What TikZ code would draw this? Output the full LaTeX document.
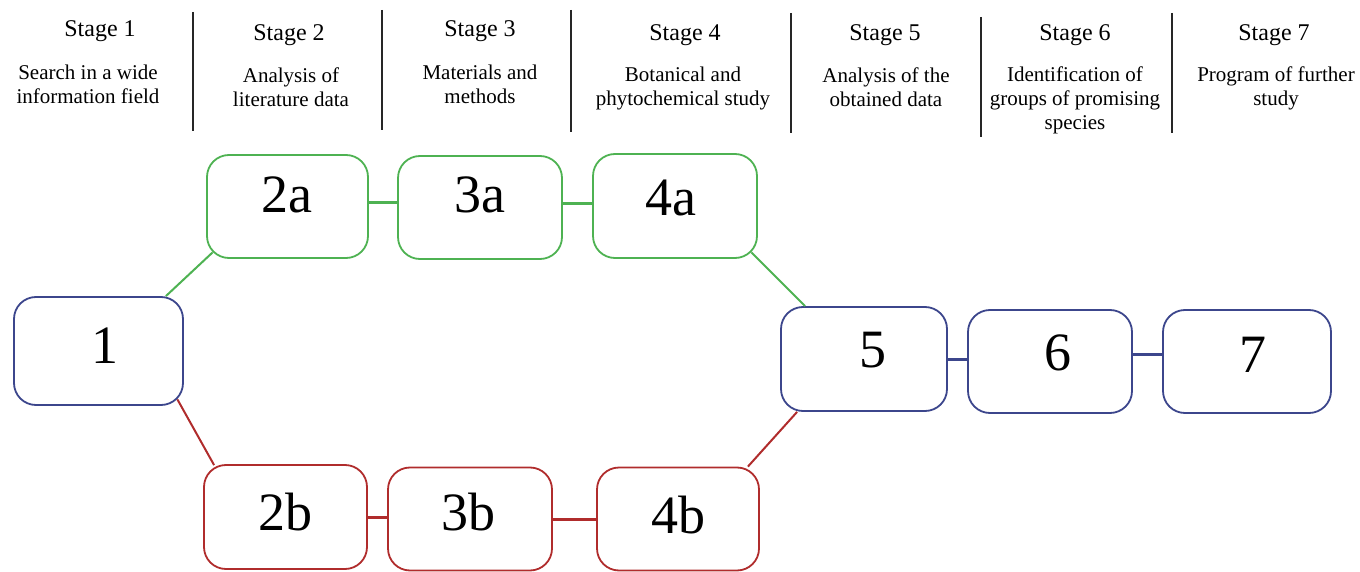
\documentclass[tikz,border=0pt]{standalone}
\usepackage{fontspec}
\setmainfont{Liberation Serif}
\usetikzlibrary{calc}
\definecolor{gline}{RGB}{78,178,82}
\definecolor{rline}{RGB}{176,44,44}
\definecolor{bline}{RGB}{60,70,140}
\begin{document}
\begin{tikzpicture}[x=1pt,y=-1pt,
  box/.style={draw, rounded corners=22pt, line width=1.8pt, inner sep=0pt},
  num/.style={font=\fontsize{54}{54}\selectfont, anchor=base, inner sep=0pt},
  stagehd/.style={font=\fontsize{24}{28}\selectfont, anchor=base, inner sep=0pt},
  desc/.style={font=\fontsize{21}{24}\selectfont, align=center, inner sep=0pt},
  divider/.style={line width=1.3pt, black!85},
  link/.style={line width=2pt},
  bar/.style={line width=3pt}]
\useasboundingbox (0,0) rectangle (1360,572);

% header
\node[stagehd] (s1) at (100,37) {Stage 1};
\node[stagehd] (s2) at (289,41) {Stage 2};
\node[stagehd] (s3) at (480,37) {Stage 3};
\node[stagehd] (s4) at (685,41) {Stage 4};
\node[stagehd] (s5) at (885,41) {Stage 5};
\node[stagehd] (s6) at (1075,41) {Stage 6};
\node[stagehd] (s7) at (1274,41) {Stage 7};

\node[desc] (d1) at (88,84) {Search in a wide\\information field};
\node[desc] (d2) at (291,87) {Analysis of\\literature data};
\node[desc] (d3) at (480,84) {Materials and\\methods};
\node[desc] (d4) at (683,88) {Botanical and\\phytochemical study};
\node[desc] (d5) at (886,87) {Analysis of the\\obtained data};
\node[desc] (d6) at (1075,100) {Identification of\\groups of promising\\species};
\node[desc] (d7) at (1276,88) {Program of further\\study};

\coordinate (v1t) at (193,12);  \coordinate (v1b) at (193,131);
\coordinate (v2t) at (382,10);  \coordinate (v2b) at (382,130);
\coordinate (v3t) at (571,10);  \coordinate (v3b) at (571,132);
\coordinate (v4t) at (791,13);  \coordinate (v4b) at (791,133);
\coordinate (v5t) at (981,17);  \coordinate (v5b) at (981,137);
\coordinate (v6t) at (1172,13); \coordinate (v6b) at (1172,133);
\draw[divider] (v1t) -- (v1b);
\draw[divider] (v2t) -- (v2b);
\draw[divider] (v3t) -- (v3b);
\draw[divider] (v4t) -- (v4b);
\draw[divider] (v5t) -- (v5b);
\draw[divider] (v6t) -- (v6b);

% boxes
\node[box, draw=bline, minimum width=169pt, minimum height=108pt] (n1) at (98.5,351) {};
\node[box, draw=gline, minimum width=161pt, minimum height=103pt] (n2a) at (287.5,206.5) {};
\node[box, draw=gline, minimum width=164pt, minimum height=103pt] (n3a) at (480,207.5) {};
\node[box, draw=gline, minimum width=164pt, minimum height=104pt] (n4a) at (675,206) {};
\node[box, draw=bline, minimum width=166pt, minimum height=104pt] (n5) at (864,359) {};
\node[box, draw=bline, minimum width=164pt, minimum height=103pt] (n6) at (1050,361.5) {};
\node[box, draw=bline, minimum width=168pt, minimum height=103pt] (n7) at (1247,361.5) {};
\node[box, draw=rline, minimum width=163pt, minimum height=104pt] (n2b) at (285.5,517) {};
\node[box, draw=rline, minimum width=164pt, minimum height=103pt] (n3b) at (470,519) {};
\node[box, draw=rline, minimum width=162pt, minimum height=103pt] (n4b) at (678,519) {};

% numbers
\node[num] (t1) at (105,363) {1};
\node[num] (t2a) at (287,213) {2a};
\node[num] (t3a) at (480,213) {3a};
\node[num] (t4a) at (671,215) {4a};
\node[num] (t5) at (873,367) {5};
\node[num] (t6) at (1058,370) {6};
\node[num] (t7) at (1253,372) {7};
\node[num] (t2b) at (285,530) {2b};
\node[num] (t3b) at (468,530) {3b};
\node[num] (t4b) at (678,533) {4b};

% connectors
\draw[link, gline] ($(n1.north east)+(-18,0)$) -- ($(n2a.south west)+(6.5,-6.5)$);
\draw[bar, gline] (n2a.east |- 0,203) -- (n3a.west |- 0,203);
\draw[bar, gline] (n3a.east |- 0,204) -- (n4a.west |- 0,204);
\draw[link, gline] ($(n4a.south east)+(-6.5,-6.5)$) -- ($(n5.north west)+(25,0)$);
\draw[link, rline] ($(n1.south east)+(-6.5,-6.5)$) -- ($(n2b.north west)+(11,1)$);
\draw[bar, rline] (n2b.east |- 0,517) -- (n3b.west |- 0,517);
\draw[bar, rline] (n3b.east |- 0,519) -- (n4b.west |- 0,519);
\draw[link, rline] ($(n4b.north east)+(-12,0)$) -- ($(n5.south west)+(17,0)$);
\draw[bar, bline] (n5.east |- 0,359) -- (n6.west |- 0,359);
\draw[bar, bline] (n6.east |- 0,354) -- (n7.west |- 0,354);
\end{tikzpicture}
\end{document}
